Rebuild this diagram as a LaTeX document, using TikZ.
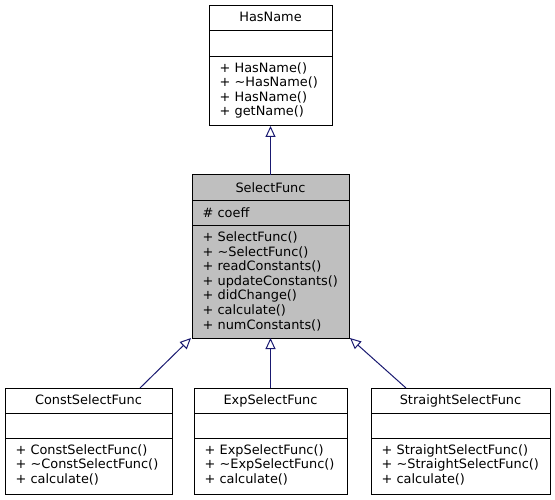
\documentclass[tikz,border=0pt]{standalone}
\usepackage{fontspec}
\setmainfont{DejaVu Sans}
\usetikzlibrary{arrows.meta}
\definecolor{edgeblue}{HTML}{191970}
\definecolor{selgray}{HTML}{BFBFBF}
\tikzset{
  x=1pt, y=1pt,
  box/.style={draw=black, line width=1pt, inner sep=0pt, outer sep=0pt, fill=white},
  sep/.style={draw=black, line width=1pt},
  ttl/.style={anchor=base, inner sep=0pt, font=\fontsize{12.9}{14.5}\selectfont},
  mem/.style={anchor=base west, inner sep=0pt, font=\fontsize{12.9}{14.5}\selectfont},
  inh/.style={draw=edgeblue, line width=1pt, -{Triangle[open, length=11pt, width=10pt, line width=1pt]}}
}
\begin{document}
\begin{tikzpicture}
\useasboundingbox (0,0) rectangle (555,-500);
% boxes
\node[box, minimum width=123pt, minimum height=120pt] (hasname) at (270.5,-66) {};
\node[box, fill=selgray, minimum width=157pt, minimum height=163pt] (sel) at (270.5,-256.5) {};
\node[box, minimum width=167pt, minimum height=106pt] (const) at (88.5,-441) {};
\node[box, minimum width=153pt, minimum height=106pt] (exp) at (270.5,-441) {};
\node[box, minimum width=179pt, minimum height=106pt] (straight) at (460.5,-441) {};
% separators
\draw[sep] (hasname.west |- 0,-31) -- (hasname.east |- 0,-31);
\draw[sep] (hasname.west |- 0,-57) -- (hasname.east |- 0,-57);
\draw[sep] (sel.west |- 0,-201) -- (sel.east |- 0,-201);
\draw[sep] (sel.west |- 0,-226) -- (sel.east |- 0,-226);
\foreach \b in {const,exp,straight}{
  \draw[sep] (\b.west |- 0,-413) -- (\b.east |- 0,-413);
  \draw[sep] (\b.west |- 0,-438) -- (\b.east |- 0,-438);
}
% HasName text
\node[ttl] (t1) at (270.5,-22) {HasName};
\node[mem] (h1) at (219.5,-72.5) {+ HasName()};
\node[mem] (h2) at (219.5,-87) {+ \textasciitilde HasName()};
\node[mem] (h3) at (219.5,-101.5) {+ HasName()};
\node[mem] (h4) at (219.5,-116) {+ getName()};
% SelectFunc text
\node[ttl] (t2) at (270.5,-193) {SelectFunc};
\node[mem] (s0) at (202.5,-217.5) {\# coeff};
\node[mem] (s1) at (202.5,-242) {+ SelectFunc()};
\node[mem] (s2) at (202.5,-256.5) {+ \textasciitilde SelectFunc()};
\node[mem] (s3) at (202.5,-271) {+ readConstants()};
\node[mem] (s4) at (202.5,-285.5) {+ updateConstants()};
\node[mem] (s5) at (202.5,-300) {+ didChange()};
\node[mem] (s6) at (202.5,-314.5) {+ calculate()};
\node[mem] (s7) at (202.5,-329) {+ numConstants()};
% bottom boxes text
\node[ttl] (t3) at (88.5,-404) {ConstSelectFunc};
\node[mem] (c1) at (15.5,-454) {+ ConstSelectFunc()};
\node[mem] (c2) at (15.5,-468.5) {+ \textasciitilde ConstSelectFunc()};
\node[mem] (c3) at (15.5,-483) {+ calculate()};
\node[ttl] (t4) at (270.5,-404) {ExpSelectFunc};
\node[mem] (e1) at (204.5,-454) {+ ExpSelectFunc()};
\node[mem] (e2) at (204.5,-468.5) {+ \textasciitilde ExpSelectFunc()};
\node[mem] (e3) at (204.5,-483) {+ calculate()};
\node[ttl] (t5) at (460.5,-404) {StraightSelectFunc};
\node[mem] (r1) at (381.5,-454) {+ StraightSelectFunc()};
\node[mem] (r2) at (381.5,-468.5) {+ \textasciitilde StraightSelectFunc()};
\node[mem] (r3) at (381.5,-483) {+ calculate()};
% inheritance edges
\draw[inh] (sel.north) -- (hasname.south);
\draw[inh] ([xshift=51.5pt]const.north) -- ([xshift=-1pt]sel.south west);
\draw[inh] (exp.north) -- (sel.south);
\draw[inh] ([xshift=-54.5pt]straight.north) -- ([xshift=1pt]sel.south east);
\end{tikzpicture}
\end{document}
